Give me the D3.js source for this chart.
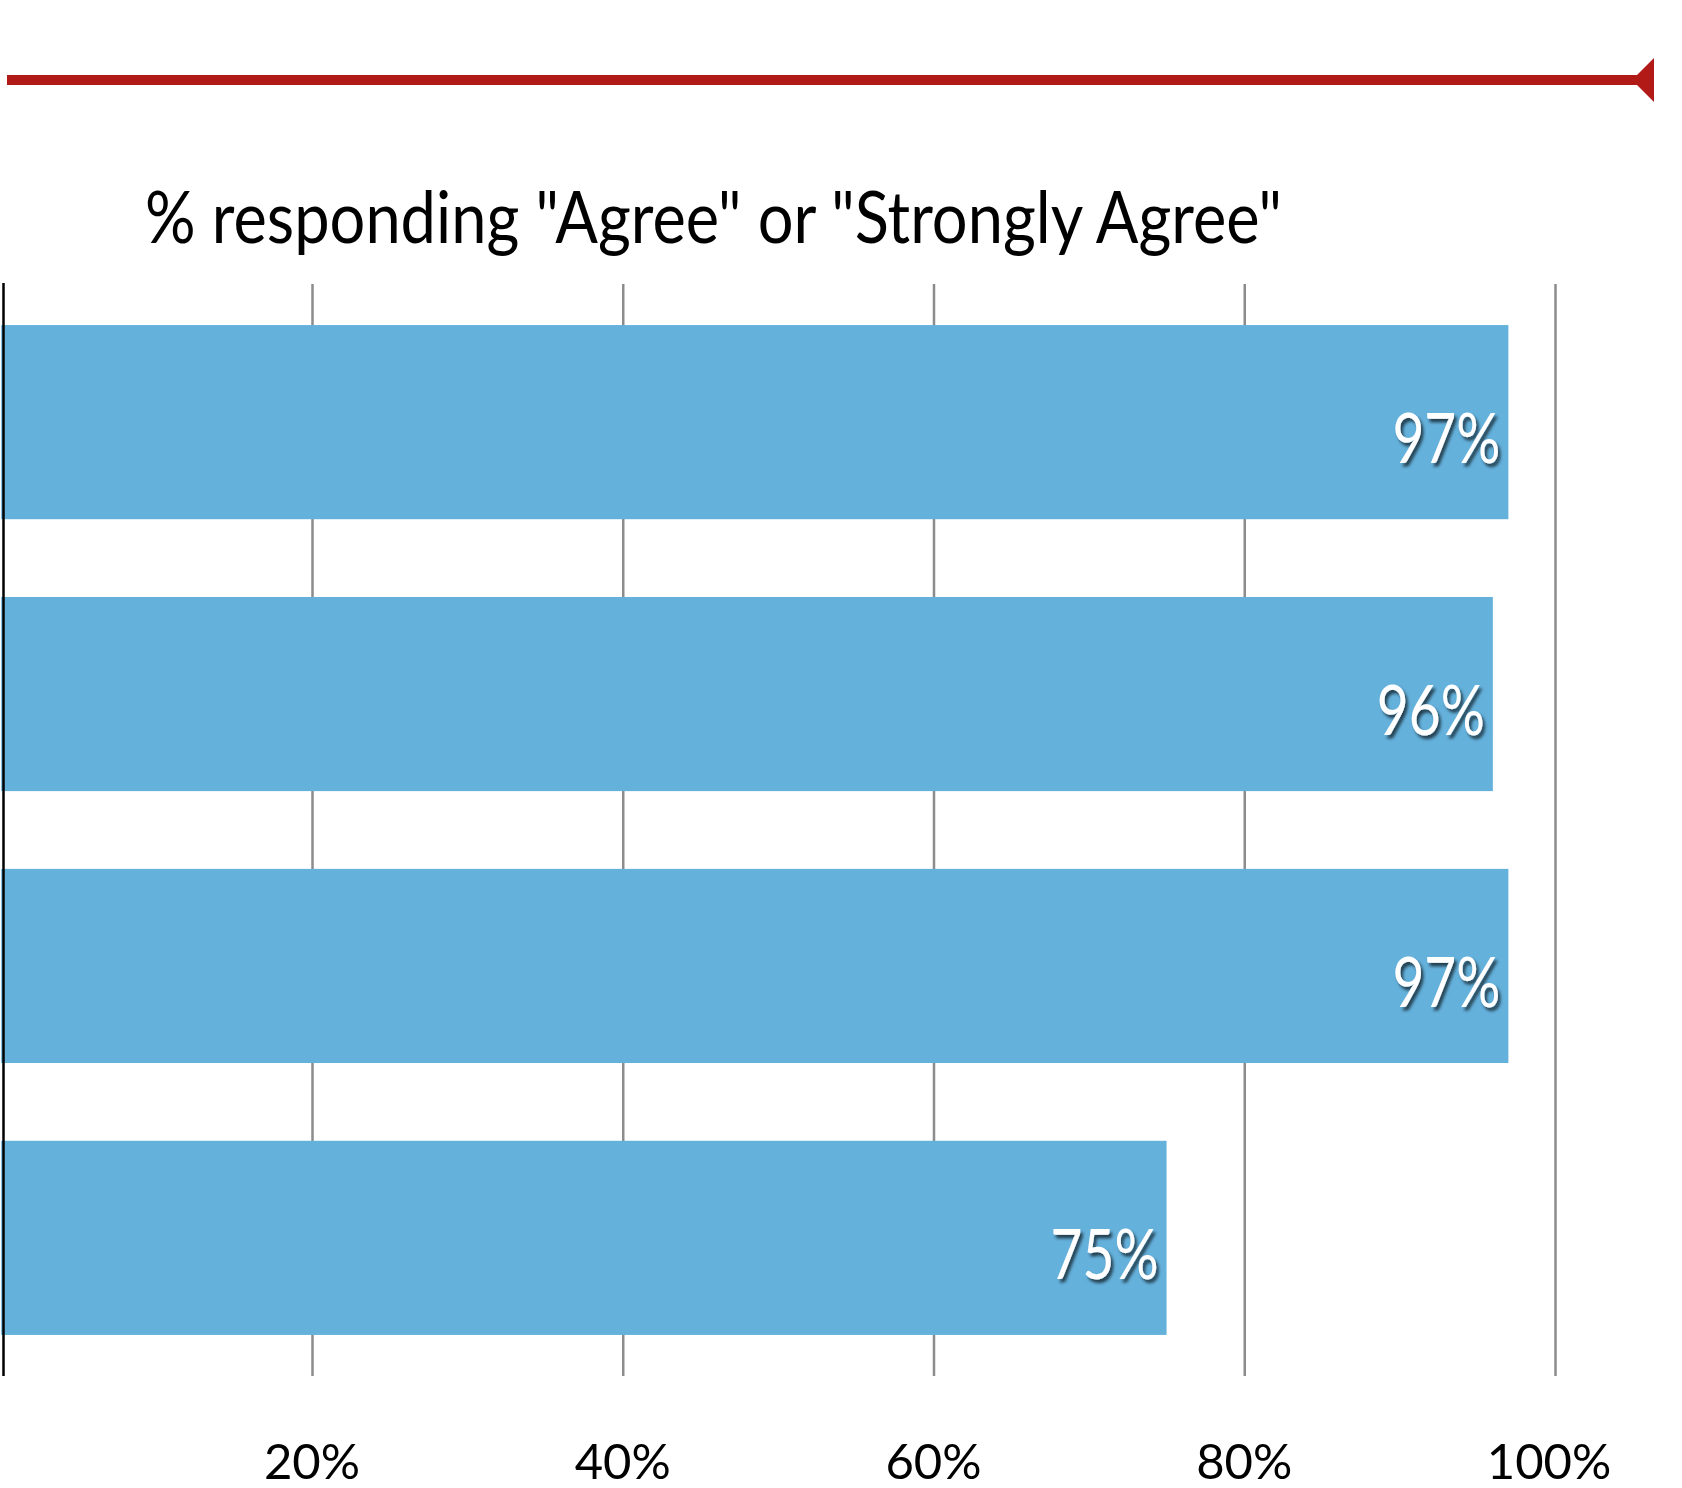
<!DOCTYPE html>
<html>
<head>
<meta charset="utf-8">
<script src="https://cdn.jsdelivr.net/npm/d3@7"></script>
<style>
  html, body { margin: 0; padding: 0; background: #fff; }
  svg { display: block; }
</style>
</head>
<body>
<svg id="chart" width="1682" height="1488"></svg>
<script>
// ---- data ----
const categories = ["Item 1", "Item 2", "Item 3", "Item 4"];
const values = [97, 96, 97, 75];
const tickValues = [20, 40, 60, 80, 100];
const tickLabels = ["20%", "40%", "60%", "80%", "100%"];
const titleText = '% responding "Agree" or "Strongly Agree"';

const svg = d3.select("#chart");

const defs = svg.append("defs");
const f = defs.append("filter").attr("id", "shadow")
  .attr("x", "-20%").attr("y", "-20%").attr("width", "140%").attr("height", "150%");
f.append("feDropShadow").attr("dx", 2.5).attr("dy", 3.5).attr("stdDeviation", 1.6)
  .attr("flood-color", "#000").attr("flood-opacity", 0.65);

const plotTop = 284, plotBottom = 1376;
const x = d3.scaleLinear().domain([0, 100]).range([1.25, 1555]);
const y = d3.scaleBand().domain(categories).range([plotTop, plotBottom])
  .paddingInner(0.286).paddingOuter(0.151);

// red decorative rule with arrowhead
svg.append("line").attr("x1", 7).attr("x2", 1640).attr("y1", 80).attr("y2", 80)
  .attr("stroke", "#B11A17").attr("stroke-width", 10);
svg.append("path").attr("d", "M1632,80 L1654,58 L1654,102 Z").attr("fill", "#B11A17");

// title
svg.append("text").attr("x", 145).attr("y", 243)
  .attr("font-family", "Lato, 'Open Sans', sans-serif").attr("font-size", 72)
  .attr("textLength", 1137).attr("lengthAdjust", "spacingAndGlyphs")
  .attr("fill", "#000").text(titleText);

// gridlines
const grid = svg.append("g").attr("transform", `translate(0,${plotBottom})`)
  .call(d3.axisTop(x).tickValues(tickValues).tickSize(plotBottom - plotTop).tickFormat(""));
grid.select(".domain").remove();
grid.selectAll(".tick line").attr("stroke", "#8c8c8c").attr("stroke-width", 2.5);

// bars
svg.append("g").selectAll("rect").data(values).join("rect")
  .attr("x", x(0))
  .attr("y", (d, i) => y(categories[i]))
  .attr("width", d => x(d) - x(0))
  .attr("height", y.bandwidth())
  .attr("fill", "#64B1DC");

// bar labels
svg.append("g").selectAll("text").data(values).join("text")
  .attr("x", d => x(d) - 8)
  .attr("y", (d, i) => y(categories[i]) + y.bandwidth() / 2 + 41)
  .attr("text-anchor", "end")
  .attr("font-family", "Lato, 'Open Sans', sans-serif").attr("font-size", 70)
  .attr("textLength", 108).attr("lengthAdjust", "spacingAndGlyphs")
  .attr("fill", "#fff").attr("filter", "url(#shadow)")
  .text(d => d + "%");

// left axis line
svg.append("line").attr("x1", 3.5).attr("x2", 3.5).attr("y1", 283).attr("y2", plotBottom)
  .attr("stroke", "#000").attr("stroke-width", 2.5);

// x labels
svg.append("g").selectAll("text").data(tickValues).join("text")
  .attr("x", d => x(d) - (d === 100 ? 6 : 0))
  .attr("y", 1479)
  .attr("text-anchor", "middle")
  .attr("font-family", "Lato, 'Open Sans', sans-serif").attr("font-size", 49)
  .attr("fill", "#000")
  .text((d, i) => tickLabels[i]);
</script>
</body>
</html>
